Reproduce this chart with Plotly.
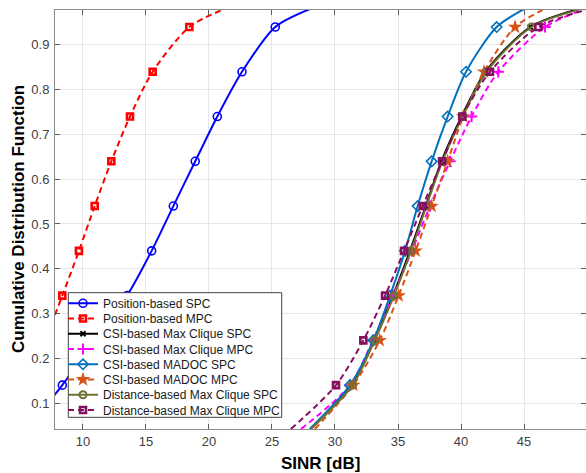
import plotly.graph_objects as go

# ---------------- data ----------------
Y_MARK = [0.14, 0.24, 0.34, 0.44, 0.54, 0.64, 0.74, 0.84, 0.94]
X_TICKS = [10, 15, 20, 25, 30, 35, 40, 45]
Y_TICKS = [0.1, 0.2, 0.3, 0.4, 0.5, 0.6, 0.7, 0.8, 0.9]

NAMES = [
    "Position-based SPC",
    "Position-based MPC",
    "CSI-based Max Clique SPC",
    "CSI-based Max Clique MPC",
    "CSI-based MADOC SPC",
    "CSI-based MADOC MPC",
    "Distance-based Max Clique SPC",
    "Distance-based Max Clique MPC",
]

# SINR (dB) where each curve reaches the marker CDF levels Y_MARK
pos_spc_x = [8.36, 10.9, 13.5, 15.45, 17.17, 18.91, 20.66, 22.62, 25.26]
pos_mpc_x = [5.7, 7.0, 8.36, 9.68, 10.93, 12.25, 13.73, 15.53, 18.44]
csi_mc_spc_x = [31.35, 33.1, 34.6, 35.95, 37.2, 38.45, 40.05, 41.95, 45.5]
csi_mc_mpc_x = [31.2, 33.0, 34.6, 36.1, 37.54, 39.13, 40.84, 42.96, 46.67]
csi_madoc_spc_x = [31.19, 33.05, 34.37, 35.56, 36.56, 37.67, 38.94, 40.4, 42.83]
csi_madoc_mpc_x = [31.45, 33.55, 35.05, 36.4, 37.67, 38.94, 40.18, 41.83, 44.29]
dist_mc_spc_x = [31.4, 33.15, 34.68, 36.03, 37.25, 38.52, 40.13, 42.03, 45.6]
dist_mc_mpc_x = [30.08, 32.25, 33.97, 35.48, 36.96, 38.5, 40.1, 42.3, 46.14]

# curve end points (low tail, high tail): (SINR, CDF)
pos_spc_ends = [(7.0, 0.092), (28.0, 0.98)]
pos_mpc_ends = [(4.8, 0.09), (21.2, 0.98)]
csi_mc_spc_ends = [(28.05, 0.042), (49.3, 0.98)]
csi_mc_mpc_ends = [(27.3, 0.042), (49.8, 0.98)]
csi_madoc_spc_ends = [(28.0, 0.042), (45.0, 0.98)]
csi_madoc_mpc_ends = [(28.4, 0.042), (46.6, 0.98)]
dist_mc_spc_ends = [(28.1, 0.042), (49.5, 0.98)]
dist_mc_mpc_ends = [(26.5, 0.042), (50.2, 0.98)]

SERIES_X = [pos_spc_x, pos_mpc_x, csi_mc_spc_x, csi_mc_mpc_x,
            csi_madoc_spc_x, csi_madoc_mpc_x, dist_mc_spc_x, dist_mc_mpc_x]
SERIES_ENDS = [pos_spc_ends, pos_mpc_ends, csi_mc_spc_ends, csi_mc_mpc_ends,
               csi_madoc_spc_ends, csi_madoc_mpc_ends, dist_mc_spc_ends, dist_mc_mpc_ends]

# ---------------- styles ----------------
DASH = "6px,4px"
STYLES = [
    dict(color="#0000FF", dash="solid", symbol="circle-open", size=8, mlw=1.6),
    dict(color="#FF0000", dash=DASH, symbol="square-open", size=6, mlw=2.6),
    dict(color="#000000", dash="solid", symbol="x-thin-open", size=5, mlw=2),
    dict(color="#FF00FF", dash=DASH, symbol="cross-thin-open", size=8, mlw=2),
    dict(color="#0072BD", dash="solid", symbol="diamond-open", size=8, mlw=1.6),
    dict(color="#D95319", dash=DASH, symbol="star", size=11, mlw=0),
    dict(color="#707034", dash="solid", symbol="circle-open", size=7, mlw=2),
    dict(color="#85105F", dash=DASH, symbol="square-open", size=6, mlw=2.6),
]

FONT = "Liberation Sans, Arial, Helvetica, sans-serif"

W, H = 586, 473
# plot area in page px: left 55, top 10, right 586, bottom 429
ML, MT, MR, MB = 55, 10, 0, 473 - 429
PW, PH = W - ML - MR, H - MT - MB


def px_to_paper_x(px):
    return (px - ML) / PW


def px_to_paper_y(py):
    return (H - MB - py) / PH


fig = go.Figure()

for i, (name, xs, ends, st) in enumerate(zip(NAMES, SERIES_X, SERIES_ENDS, STYLES)):
    lx = [ends[0][0]] + xs + [ends[1][0]]
    ly = [ends[0][1]] + Y_MARK + [ends[1][1]]
    legname = "legend" if i == 0 else f"legend{i + 1}"
    line = dict(color=st["color"], width=2, dash=st["dash"], shape="spline", smoothing=0.8)
    marker = dict(color=st["color"], symbol=st["symbol"], size=st["size"],
                  line=dict(color=st["color"], width=st["mlw"]))
    fig.add_trace(go.Scatter(x=lx, y=ly, mode="lines", line=line,
                             showlegend=False, hoverinfo="skip"))
    fig.add_trace(go.Scatter(x=xs, y=Y_MARK, mode="markers", marker=marker,
                             showlegend=False, name=name))
    fig.add_trace(go.Scatter(x=[None], y=[None], mode="lines+markers", line=line,
                             marker=marker, name=name, showlegend=True, legend=legname))

# legend layout: one row per legend so row spacing matches the original
row0, row_step = 303.3, 15.24
legend_left_px = 63
layout_legends = {}
for i in range(len(NAMES)):
    yc = row0 + row_step * i
    top = yc - 14.5
    key = "legend" if i == 0 else f"legend{i + 1}"
    layout_legends[key] = dict(
        x=px_to_paper_x(legend_left_px), y=px_to_paper_y(top),
        xanchor="left", yanchor="top",
        bgcolor="rgba(0,0,0,0)", borderwidth=0,
        font=dict(family=FONT, size=12, color="#1a1a1a"),
    )

axis_common = dict(
    showline=True, linecolor="#8c8c8c", linewidth=1, mirror="ticks",
    ticks="inside", ticklen=5, tickcolor="#5a5a5a", tickwidth=1,
    showgrid=True, gridcolor="#e6e6e6", gridwidth=1, zeroline=False,
    tickfont=dict(family=FONT, size=13, color="#404040"),
)

fig.update_layout(
    width=W, height=H,
    margin=dict(l=ML, r=MR, t=MT, b=MB, pad=0, autoexpand=False),
    paper_bgcolor="white", plot_bgcolor="white",
    xaxis=dict(range=[7.78, 49.92], tickvals=X_TICKS, ticktext=[str(v) for v in X_TICKS],
               **axis_common),
    yaxis=dict(range=[0.042, 0.978], tickvals=Y_TICKS, ticktext=[f"{v:.1f}" for v in Y_TICKS],
               ticklabelstandoff=2, **axis_common),
    shapes=[dict(type="rect", xref="paper", yref="paper", layer="above",
                 x0=px_to_paper_x(68.3), x1=px_to_paper_x(281.7),
                 y0=px_to_paper_y(417.3), y1=px_to_paper_y(292.7),
                 fillcolor="white", line=dict(color="#404040", width=1))],
    annotations=[
        dict(text="<b>SINR [dB]</b>", xref="paper", yref="paper", x=0.5, y=0,
             xanchor="center", yanchor="middle", yshift=-34, showarrow=False,
             font=dict(family=FONT, size=17, color="#000000")),
        dict(text="<b>Cumulative Distribution Function</b>", xref="paper", yref="paper",
             x=0, y=0.5, xanchor="center", yanchor="middle", xshift=-36.5, textangle=-90,
             showarrow=False, font=dict(family=FONT, size=17, color="#000000")),
    ],
    **layout_legends,
)

fig.write_html(
    "out.html",
    config={"displayModeBar": False},
    post_script="document.body.style.margin='0';document.body.style.padding='0';"
                "document.body.style.overflow='hidden';",
)
